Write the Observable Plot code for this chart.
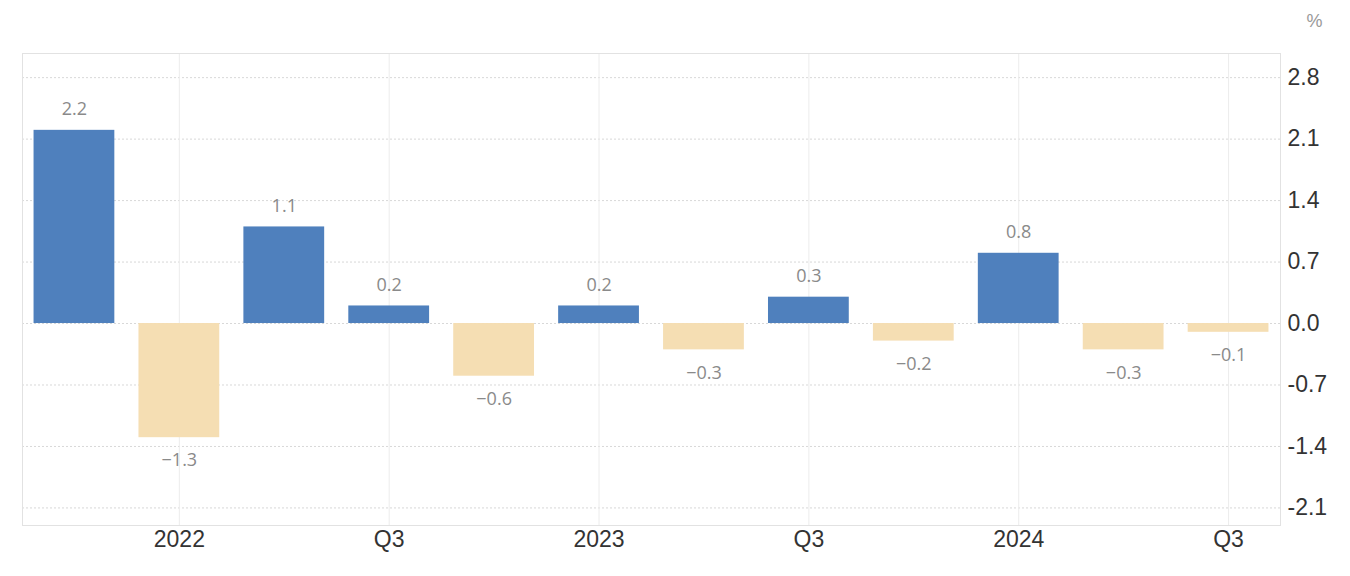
<!DOCTYPE html>
<html>
<head>
<meta charset="utf-8">
<script src="https://cdn.jsdelivr.net/npm/d3@7"></script>
<script src="https://cdn.jsdelivr.net/npm/@observablehq/plot@0.6"></script>
<style>
  html, body { margin: 0; padding: 0; background: #fff; }
  #chart svg { display: block; }
</style>
</head>
<body>
<div id="chart"></div>
<script>
const quarters = ["Q4 2021","Q1 2022","Q2 2022","Q3 2022","Q4 2022","Q1 2023","Q2 2023","Q3 2023","Q4 2023","Q1 2024","Q2 2024","Q3 2024"];
const values = [2.2, -1.3, 1.1, 0.2, -0.6, 0.2, -0.3, 0.3, -0.2, 0.8, -0.3, -0.1];
const xTickLabels = {"Q1 2022": "2022", "Q3 2022": "Q3", "Q1 2023": "2023", "Q3 2023": "Q3", "Q1 2024": "2024", "Q3 2024": "Q3"};
const yTicks = [2.8, 2.1, 1.4, 0.7, 0.0, -0.7, -1.4, -2.1];
const unitLabel = "%";

const data = quarters.map((q, i) => ({q, v: values[i]}));
const fmtBar = v => (v < 0 ? "\u2212" : "") + Math.abs(v).toFixed(1);

const chart = Plot.plot({
  width: 1350,
  height: 576,
  marginLeft: 22,
  marginRight: 70,
  marginTop: 53,
  marginBottom: 51,
  style: {background: "#fff", fontFamily: "Liberation Sans, Arial, sans-serif"},
  x: {domain: quarters, paddingInner: 0.23, paddingOuter: 0.11, round: false},
  y: {domain: [-2.30, 3.075]},
  marks: [
    Plot.gridY(yTicks, {stroke: "#d8d8d8", strokeOpacity: 1, strokeDasharray: "2,2"}),
    Plot.gridX(Object.keys(xTickLabels), {stroke: "#ececec", strokeOpacity: 1}),
    Plot.frame({stroke: "#e2e2e2"}),
    Plot.barY(data, {x: "q", y: "v", fill: d => d.v >= 0 ? "#4f80bd" : "#f5deb3"}),
    Plot.text(data.filter(d => d.v >= 0), {x: "q", y: "v", text: d => fmtBar(d.v), dy: -21, fill: "#8a8a8a", fontSize: 18, fontFamily: "Open Sans, sans-serif"}),
    Plot.text(data.filter(d => d.v < 0), {x: "q", y: "v", text: d => fmtBar(d.v), dy: 23, fill: "#8a8a8a", fontSize: 18, fontFamily: "Open Sans, sans-serif"}),
    Plot.axisY(yTicks, {anchor: "right", tickSize: 0, tickPadding: 7, tickFormat: d => d.toFixed(1), fontSize: 23, fill: "#333", label: null}),
    Plot.axisX(Object.keys(xTickLabels), {anchor: "bottom", tickSize: 0, tickPadding: 5, tickFormat: d => xTickLabels[d], fontSize: 23, fill: "#333", label: null}),
    Plot.text([unitLabel], {frameAnchor: "top-right", text: d => d, dx: 34, dy: -39, fill: "#999", fontSize: 18, textAnchor: "middle"})
  ]
});
document.getElementById("chart").appendChild(chart);
</script>
</body>
</html>
